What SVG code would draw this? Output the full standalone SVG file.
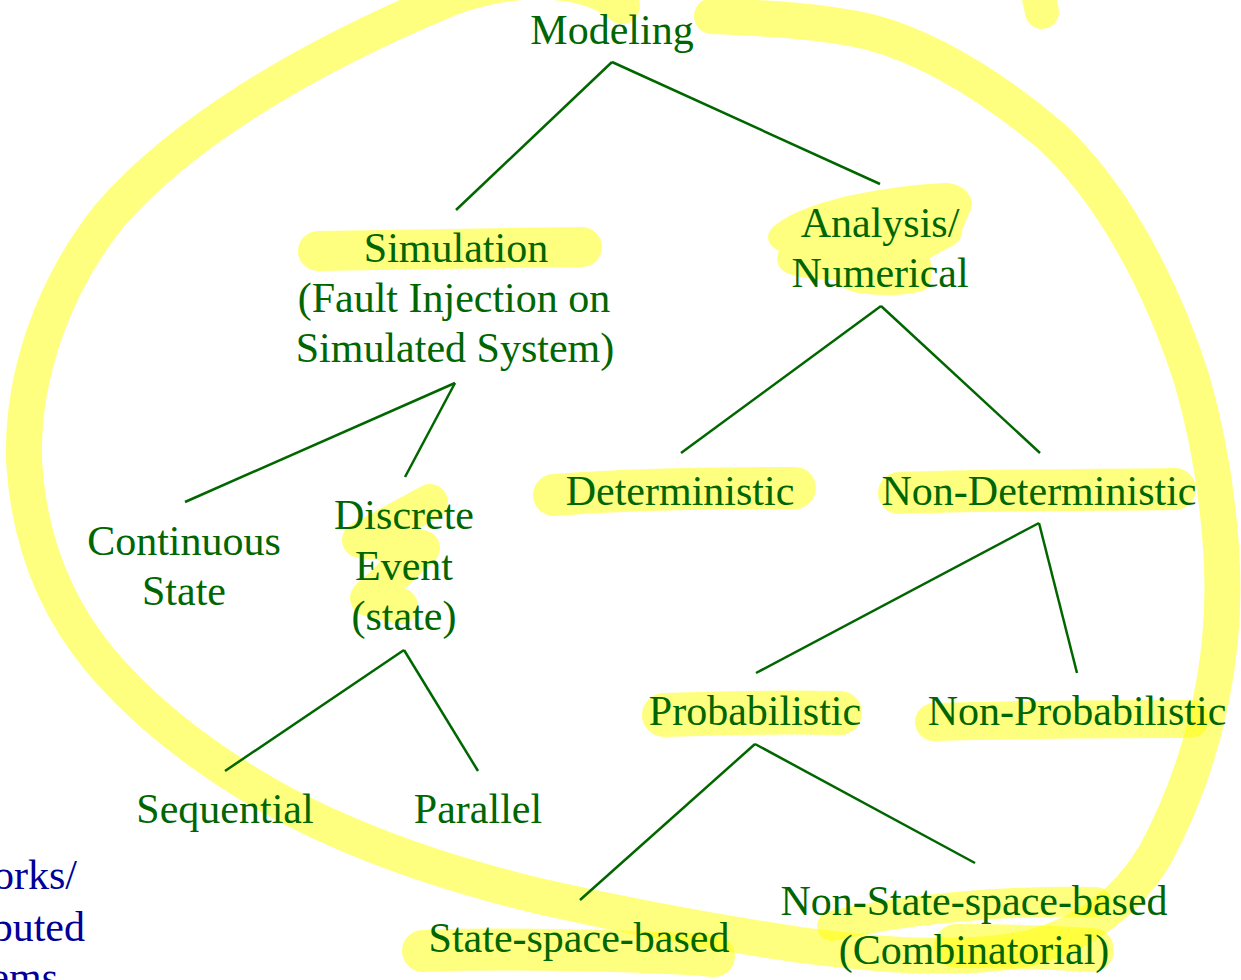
<svg xmlns="http://www.w3.org/2000/svg" width="1241" height="980" viewBox="0 0 1241 980">
<style>
.hl{fill:none;stroke:#ffff00;stroke-opacity:0.5;stroke-linecap:round;stroke-linejoin:round}
.hf{fill:#ffff00;fill-opacity:0.5;stroke:none}
.lbl{font-family:"Liberation Serif","Times New Roman",serif;font-size:42px;fill:#006600;text-anchor:middle}
.blue{font-family:"Liberation Serif","Times New Roman",serif;font-size:42px;fill:#000099;text-anchor:end}
.edge{stroke:#006600;stroke-width:2.5;fill:none}
</style>
<rect width="1241" height="980" fill="#ffffff"/>
<g id="highlights">
  <path class="hl" stroke-width="36" d="M712 16 C 760 18, 818 20, 870 32 C 930 48, 990 85, 1050 135 C 1110 190, 1160 280, 1192 380 C 1215 460, 1228 560, 1220 640 C 1212 720, 1190 790, 1155 855 C 1125 905, 1080 935, 1030 948 C 960 962, 880 955, 800 945 C 700 930, 610 912, 543 897 C 450 875, 380 850, 320 822 C 230 780, 150 720, 100 660 C 50 600, 28 530, 24 460 C 22 380, 50 290, 110 215 C 180 135, 300 60, 450 -2 C 520 -28, 590 -22, 622 6"/>
  <path class="hl" stroke-width="34" d="M1034 -25 L 1042 12"/>
  <path class="hl" stroke-width="40" d="M318 251 L 582 247"/>
  <path class="hf" d="M773 227 C 790 212, 820 203, 843 197 C 870 191, 910 184, 947 183 C 962 184, 972 194, 972 205 C 970 215, 962 225, 961 237 C 958 245, 945 249, 930 258 C 932 270, 934 282, 925 290 C 910 296, 880 296, 858 293 C 845 290, 838 284, 835 280 C 820 279, 800 279, 787 273 C 776 268, 776 258, 779 251 C 768 246, 764 236, 773 227 Z"/>
  <path class="hl" stroke-width="42" d="M554 495 C 620 490, 720 488, 795 488"/>
  <path class="hl" stroke-width="42" d="M899 493 C 980 490, 1100 490, 1175 489"/>
  <path class="hl" stroke-width="36" d="M430 502 L 360 540 L 422 548 L 368 598 L 400 606"/>
  <path class="hl" stroke-width="44" d="M664 715 C 720 713, 790 712, 840 713"/>
  <path class="hl" stroke-width="38" d="M934 722 C 1000 720, 1120 719, 1190 719"/>
  <path class="hl" stroke-width="42" d="M423 951 C 500 948, 640 950, 714 956"/>
  <path class="hl" stroke-width="30" d="M832 926 C 900 910, 1000 900, 1096 902"/>
  <path class="hl" stroke-width="44" d="M956 946 C 1000 946, 1060 948, 1092 950"/>
</g>
<g id="connectors">
  <line class="edge" x1="612" y1="62" x2="456" y2="210"/>
  <line class="edge" x1="612" y1="62" x2="880" y2="184"/>
  <line class="edge" x1="455" y1="383" x2="185" y2="502"/>
  <line class="edge" x1="455" y1="383" x2="405" y2="477"/>
  <line class="edge" x1="881" y1="306" x2="681" y2="453"/>
  <line class="edge" x1="881" y1="306" x2="1040" y2="453"/>
  <line class="edge" x1="404" y1="650" x2="225" y2="771"/>
  <line class="edge" x1="404" y1="650" x2="478" y2="771"/>
  <line class="edge" x1="1039" y1="523" x2="756" y2="673"/>
  <line class="edge" x1="1039" y1="523" x2="1077" y2="673"/>
  <line class="edge" x1="755" y1="744" x2="580" y2="900"/>
  <line class="edge" x1="755" y1="744" x2="975" y2="863"/>
</g>
<g id="node-modeling"><text class="lbl" x="612" y="44">Modeling</text></g>
<g id="node-simulation">
  <text class="lbl" x="456" y="262">Simulation</text>
  <text class="lbl" x="454" y="312">(Fault Injection on</text>
  <text class="lbl" x="455" y="362">Simulated System)</text>
</g>
<g id="node-analysis">
  <text class="lbl" x="880" y="237">Analysis/</text>
  <text class="lbl" x="880" y="287">Numerical</text>
</g>
<g id="node-deterministic"><text class="lbl" x="680" y="505">Deterministic</text></g>
<g id="node-nondeterministic"><text class="lbl" x="1039" y="505">Non-Deterministic</text></g>
<g id="node-continuous">
  <text class="lbl" x="184" y="555">Continuous</text>
  <text class="lbl" x="184" y="605">State</text>
</g>
<g id="node-discrete">
  <text class="lbl" x="404" y="529">Discrete</text>
  <text class="lbl" x="404" y="580">Event</text>
  <text class="lbl" x="404" y="630">(state)</text>
</g>
<g id="node-sequential"><text class="lbl" x="225" y="823">Sequential</text></g>
<g id="node-parallel"><text class="lbl" x="478" y="823">Parallel</text></g>
<g id="node-probabilistic"><text class="lbl" x="755" y="725">Probabilistic</text></g>
<g id="node-nonprobabilistic"><text class="lbl" x="1077" y="725">Non-Probabilistic</text></g>
<g id="node-statespace"><text class="lbl" x="579" y="952">State-space-based</text></g>
<g id="node-nonstatespace">
  <text class="lbl" x="974" y="915">Non-State-space-based</text>
  <text class="lbl" x="974" y="964">(Combinatorial)</text>
</g>
<g id="node-cut">
  <text class="blue" x="77" y="889">orks/</text>
  <text class="blue" x="85" y="941">buted</text>
  <text class="blue" x="58" y="991">ems</text>
</g>
</svg>
